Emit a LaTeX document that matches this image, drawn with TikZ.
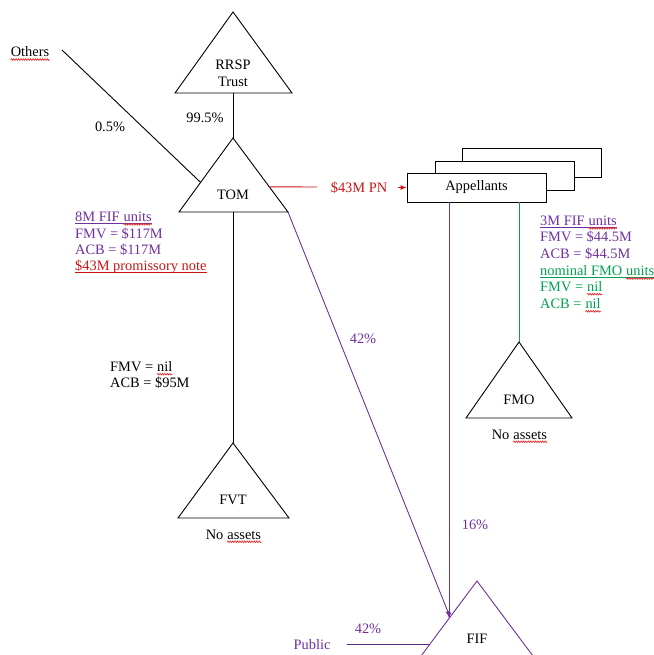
\documentclass[tikz,border=0pt]{standalone}
\usepackage{fontspec}
\setmainfont{Liberation Serif}
\usetikzlibrary{arrows.meta,calc,decorations.pathmorphing}
\definecolor{spellred}{RGB}{225,45,45}
\definecolor{fpurple}{RGB}{112,48,160}
\definecolor{fred}{RGB}{200,20,20}
\definecolor{fgreen}{RGB}{0,160,80}
\newcommand\squig[1]{\draw[sqline] ([yshift=-2.6pt]#1.base west) -- ([yshift=-2.6pt]#1.base east);}
\newcommand\uline[3]{\draw[ulline, #3] ([yshift=-1.8pt]#1.base west) -- ([yshift=-1.8pt]#2.base east);}
\begin{document}
\begin{tikzpicture}[x=1pt,y=-1pt,
  every node/.style={font=\fontsize{14.4}{17}\selectfont, inner sep=0pt},
  ln/.style={line width=0.9pt},
  tri/.style={line width=0.9pt, fill=white},
  lbl/.style={anchor=west},
  nxt/.style={anchor=base west, xshift=3.6pt},
  arr/.style={-{Latex[length=6pt,width=5pt]}},
  sqline/.style={spellred, line width=0.7pt, decorate, decoration={snake, amplitude=0.8pt, segment length=2.4pt}},
  ulline/.style={line width=0.7pt},
  boxst/.style={draw, line width=0.9pt, fill=white, minimum width=139pt, minimum height=29pt, inner sep=0pt}
]
\useasboundingbox (0,0) rectangle (653,655);
% triangle vertices
\coordinate (rA) at (233,12);  \coordinate (rL) at (175,93);  \coordinate (rR) at (292,93);
\coordinate (tA) at (233,138); \coordinate (tL) at (179,212); \coordinate (tR) at (288,212);
\coordinate (vA) at (233,443); \coordinate (vL) at (178,518); \coordinate (vR) at (289,518);
\coordinate (mA) at (519,342); \coordinate (mL) at (466,418); \coordinate (mR) at (572,418);
\coordinate (fA) at (477,581); \coordinate (fL) at (421,656); \coordinate (fR) at (533,656);
% triangles
\draw[tri] (rA) -- (rL) -- (rR) -- cycle;
\draw[tri] (tA) -- (tL) -- (tR) -- cycle;
\draw[tri] (vA) -- (vL) -- (vR) -- cycle;
\draw[tri] (mA) -- (mL) -- (mR) -- cycle;
\begin{scope}
\clip (0,0) rectangle (653,655);
\draw[tri, draw=fpurple] (fA) -- (fL) -- (fR) -- cycle;
\end{scope}
% triangle labels
\node (rrsp) at (233,65) {RRSP};
\node (trust) at (233,82) {Trust};
\node (tom) at (233,195) {TOM};
\node (fvt) at (233,500) {FVT};
\node (fmo) at (519,400) {FMO};
\node (fif) at (477,639) {FIF};
\node[lbl] (fvtno) at (205.6,534.5) {No};
\node[nxt] (fvtas) at (fvtno.base east) {assets};
\node[lbl] (fmono) at (491.6,434.5) {No};
\node[nxt] (fmoas) at (fmono.base east) {assets};
% Appellants boxes
\node[boxst] (app3) at (531.5,163) {};
\node[boxst] (app2) at (504.5,175.5) {};
\node[boxst] (app) at (476.5,187.5) {Appellants};
% other end points
\coordinate (othersEnd) at (62,50);
\coordinate (publicEnd) at (347,644);
\coordinate (appL) at (449,202);
\coordinate (appG) at (519,202);
\coordinate (fifV) at (449,618.5);
\coordinate (fifD) at (450,617);
\coordinate (fifP) at (430,644);
\coordinate (pnEnd) at (317,187);
\coordinate (pnStart) at (398,187.5);
% connectors
\draw[ln] (othersEnd) -- ($(tA)!0.6!(tL)$);
\draw[ln] (rL -| rA) -- (tA);
\draw[ln] (tL -| tA) -- (vA);
\draw[ln, fred] ($(tA)!0.66!(tR)$) -- (pnEnd);
\draw[ln, fred, arr] (pnStart) -- (app.west);
\draw[ln, fpurple, arr] (tR) -- (fifD);
\draw[ln, fpurple, arr] (appL) -- (fifV);
\draw[ln, fgreen] (appG) -- (mA);
\draw[ln, fpurple!80!black] (publicEnd) -- (fifP);
% labels
\node (others) at (30,52) {Others};
\node (p05) at (110,127) {0.5\%};
\node (p995) at (205,118) {99.5\%};
\node[fred] (pn) at (359,188) {\$43M PN};
\node[lbl, fpurple] (l1) at (75,217) {8M FIF};
\node[nxt, fpurple] (l1u) at (l1.base east) {units};
\node[lbl, fpurple] (l2) at (75,234) {FMV = \$117M};
\node[lbl, fpurple] (l3) at (75,250) {ACB = \$117M};
\node[lbl, fred] (l4) at (75,267) {\$43M promissory note};
\node[lbl] (v1) at (110,367) {FMV =};
\node[nxt] (v1n) at (v1.base east) {nil};
\node[lbl] (v2) at (110,383) {ACB = \$95M};
\node[lbl, fpurple] (r1) at (540,221) {3M FIF};
\node[nxt, fpurple] (r1u) at (r1.base east) {units};
\node[lbl, fpurple] (r2) at (540,237) {FMV = \$44.5M};
\node[lbl, fpurple] (r3) at (540,254) {ACB = \$44.5M};
\node[lbl, fgreen] (r4) at (540,271) {nominal FMO};
\node[nxt, fgreen] (r4u) at (r4.base east) {units};
\node[lbl, fgreen] (r5) at (540,287) {FMV =};
\node[nxt, fgreen] (r5n) at (r5.base east) {nil};
\node[lbl, fgreen] (r6) at (540,304) {ACB =};
\node[nxt, fgreen] (r6n) at (r6.base east) {nil};
\node[fpurple] (p42a) at (363,339) {42\%};
\node[fpurple] (p16) at (475,525) {16\%};
\node[fpurple] (public) at (312,645) {Public};
\node[fpurple] (p42b) at (368,629) {42\%};
% underlines
\uline{l1}{l1u}{fpurple}
\uline{l4}{l4}{fred}
\uline{r1}{r1u}{fpurple}
\uline{r4}{r4u}{fgreen}
% spelling squiggles
\squig{others}
\squig{l1u}
\squig{v1n}
\squig{r1u}
\squig{r4u}
\squig{r5n}
\squig{r6n}
\squig{fvtas}
\squig{fmoas}
\end{tikzpicture}
\end{document}
